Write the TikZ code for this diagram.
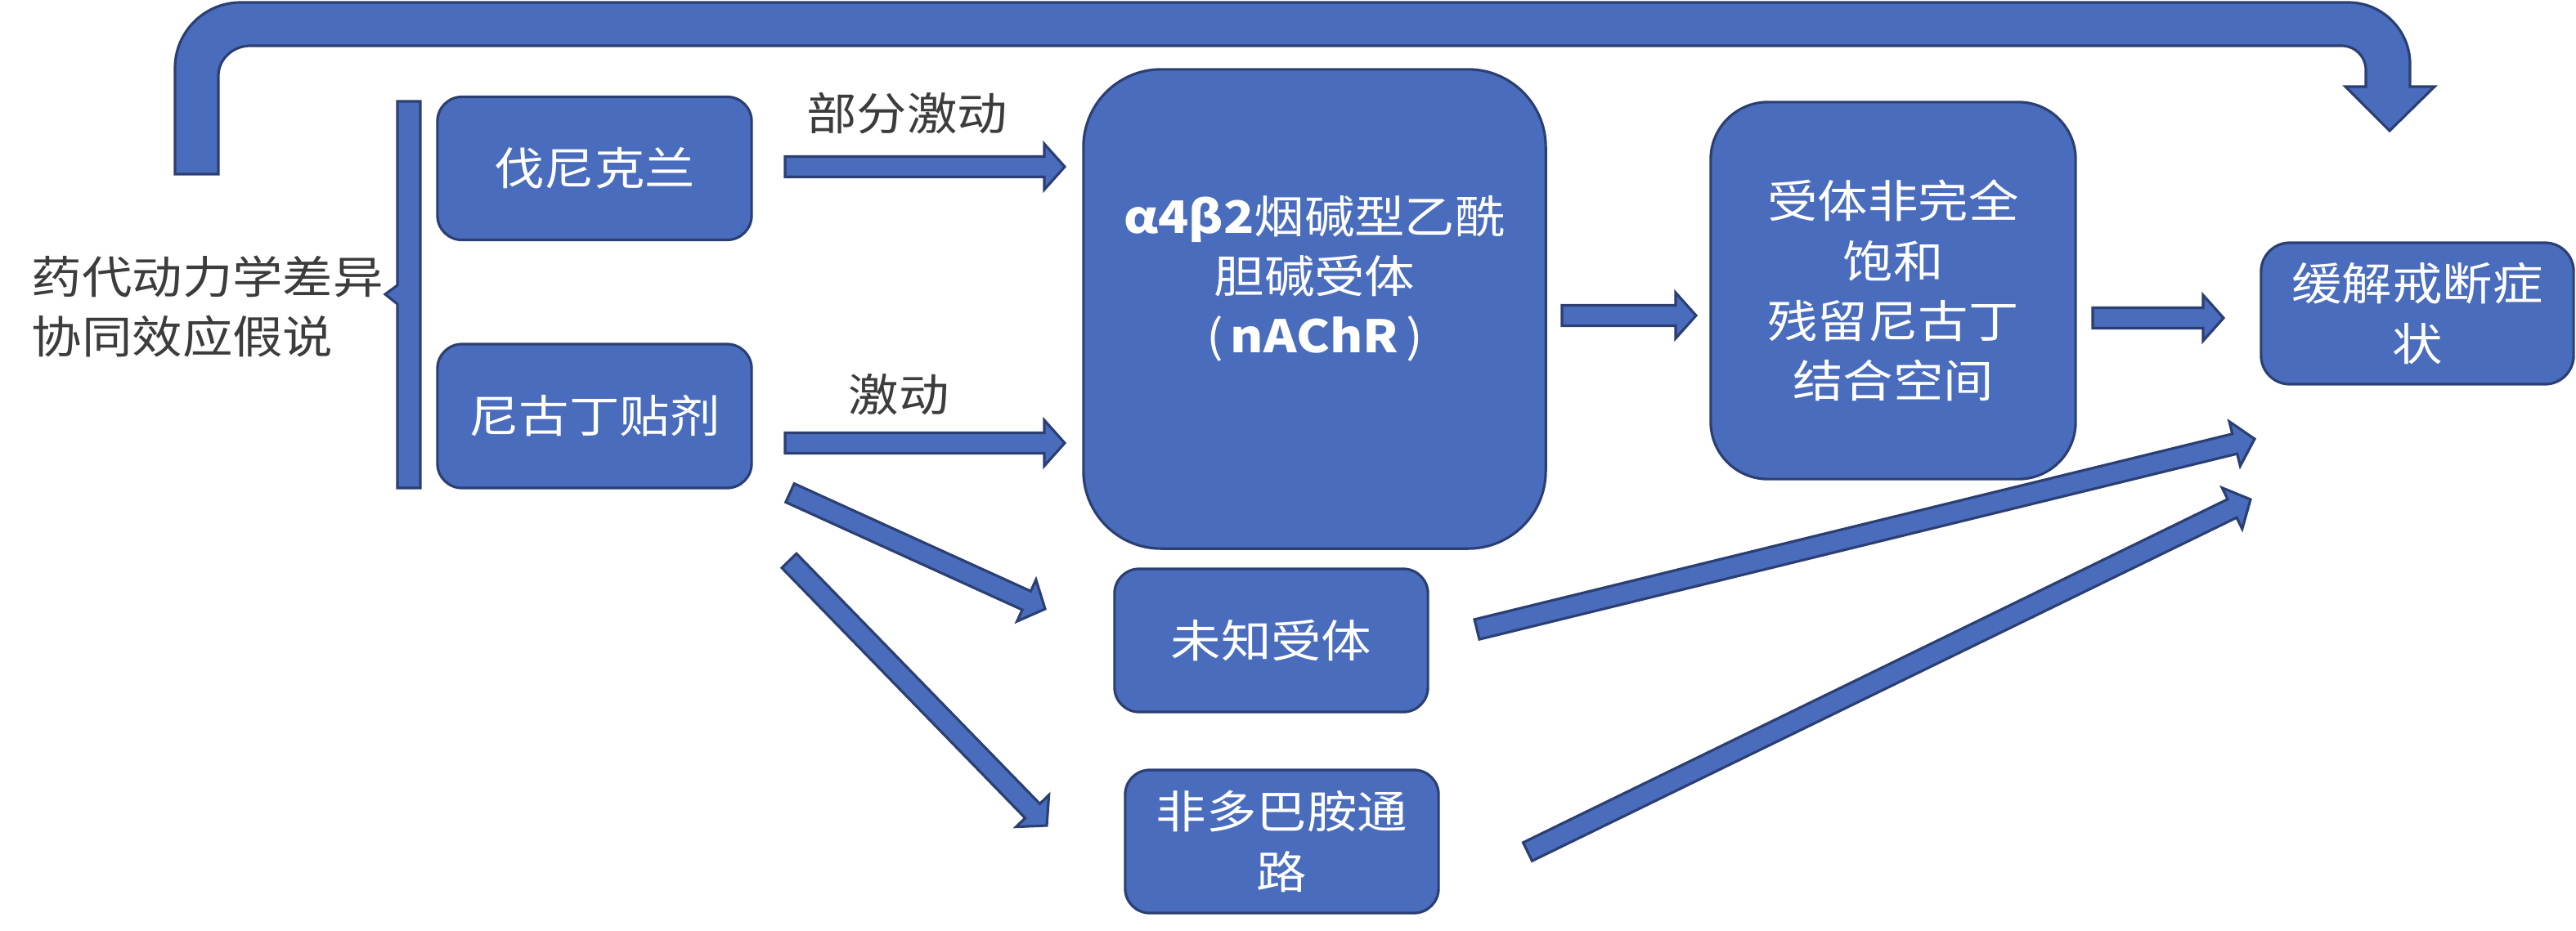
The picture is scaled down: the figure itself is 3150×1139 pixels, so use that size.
\documentclass[tikz,border=0pt]{standalone}
\usepackage{fontspec}
\setmainfont{Noto Sans CJK SC}[FakeStretch=1.12]
\usetikzlibrary{calc}
\definecolor{bfill}{HTML}{4A6CBD}
\definecolor{bedge}{HTML}{2B3F73}
\definecolor{tgray}{HTML}{3C3C3C}
\def\bsw{0.125cm}
\def\bhw{0.28cm}
\def\bhl{0.25cm}
\tikzset{
  barrow/.style={draw=bedge, fill=bfill, line width=0.9pt, line join=miter,
    to path={let \p1=(\tikztostart), \p2=(\tikztotarget), \n1={atan2(\y2-\y1,\x2-\x1)} in
      ($(\p1)+({\n1+90}:\bsw)$) -- ($(\p2)+({\n1+180}:\bhl)+({\n1+90}:\bsw)$)
      -- ($(\p2)+({\n1+180}:\bhl)+({\n1+90}:\bhw)$) -- (\p2)
      -- ($(\p2)+({\n1+180}:\bhl)+({\n1-90}:\bhw)$) -- ($(\p2)+({\n1+180}:\bhl)+({\n1-90}:\bsw)$)
      -- ($(\p1)+({\n1-90}:\bsw)$) -- cycle}},
  box/.style={draw=bedge, fill=bfill, line width=0.9pt, text=white, align=center, inner sep=0pt},
  boxtext/.style={text=white, align=center, inner sep=0pt},
  lbl/.style={text=tgray, inner sep=0pt},
  bshape/.style={draw=bedge, fill=bfill, line width=0.9pt, line join=miter}
}
\begin{document}
\begin{tikzpicture}[x=0.01cm, y=-0.01cm, font=\fontsize{15.6pt}{20.8pt}\selectfont]
\useasboundingbox (0,0) rectangle (3150,1139);

% big curved arrow
\draw[bshape] (214,213) -- (214,83) .. controls (214,39) and (250,3) .. (294,3)
  -- (2872,3) .. controls (2913,3) and (2947,37) .. (2947,78)
  -- (2947,106) -- (2977,106) -- (2922,160) -- (2868,106) -- (2893,106)
  -- (2893,86) .. controls (2893,69) and (2880,56) .. (2863,56)
  -- (306,56) .. controls (285,56) and (267,72) .. (267,93)
  -- (267,213) -- cycle;

% left text and bracket
\node[lbl, anchor=west, align=left] (hyp) at (38,375) {药代动力学差异\\协同效应假说};
\draw[bshape] (514,124) -- (486,124) -- (486,349) -- (471,360) -- (486,372)
  -- (486,597) -- (514,597) -- cycle;

% boxes
\node[box, minimum width=3.84cm, minimum height=1.75cm, rounded corners=0.3cm] (var) at (727,206) {伐尼克兰};
\node[box, minimum width=3.84cm, minimum height=1.76cm, rounded corners=0.3cm] (nic) at (727,509) {尼古丁贴剂};
\node[box, minimum width=5.65cm, minimum height=5.86cm, rounded corners=0.95cm] (nachr) at (1607.5,378) {};
\node[boxtext] (nachrT) at ([yshift=0.37cm]nachr.center) {\textbf{α4β2}烟碱型乙酰\\胆碱受体\\(\,\textbf{nAChR}\,)};
\node[box, minimum width=4.46cm, minimum height=4.61cm, rounded corners=0.7cm] (sat) at (2315,355.5) {受体非完全\\饱和\\残留尼古丁\\结合空间};
\node[box, minimum width=3.82cm, minimum height=1.73cm, rounded corners=0.35cm] (relief) at (2956,383.5) {缓解戒断症\\状};
\node[box, minimum width=3.83cm, minimum height=1.75cm, rounded corners=0.3cm] (unk) at (1554.5,783.5) {未知受体};
\node[box, minimum width=3.83cm, minimum height=1.75cm, rounded corners=0.3cm] (nondop) at (1567.5,1029.5) {非多巴胺通\\路};

% labels
\node[lbl] (lpa) at (1109,139) {部分激动};
\node[lbl] (la) at (1099,483) {激动};

% arrow end points
\coordinate (a1s) at (960,204);  \coordinate (a1e) at (1302,204);
\coordinate (a2s) at (960,542);  \coordinate (a2e) at (1302,542);
\coordinate (a3s) at (1910,386); \coordinate (a3e) at (2074,386);
\coordinate (a4s) at (2559,389); \coordinate (a4e) at (2719,389);
\coordinate (a5s) at (966,603);  \coordinate (a5e) at (1278,745);
\coordinate (a6s) at (965,686);  \coordinate (a6e) at (1280,1010);
\coordinate (a7s) at (1806,770); \coordinate (a7e) at (2757,537);
\coordinate (a8s) at (1868,1042); \coordinate (a8e) at (2752,611);

\draw[barrow] (a1s) to (a1e);
\draw[barrow] (a2s) to (a2e);
\draw[barrow] (a3s) to (a3e);
\draw[barrow] (a4s) to (a4e);
\draw[barrow] (a5s) to (a5e);
\draw[barrow] (a6s) to (a6e);
\draw[barrow] (a7s) to (a7e);
\draw[barrow] (a8s) to (a8e);
\end{tikzpicture}
\end{document}
